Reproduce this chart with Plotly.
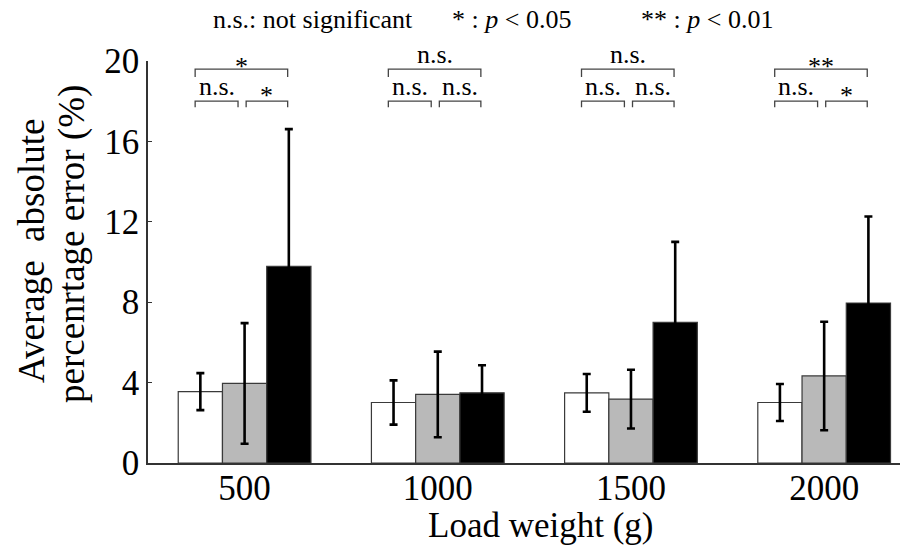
import plotly.graph_objects as go

# ---- data ----
categories = ["500", "1000", "1500", "2000"]
series_names = ["Condition A", "Condition B", "Condition C"]
means_a = [3.55, 3.01, 3.49, 3.01]
means_b = [3.96, 3.41, 3.18, 4.33]
means_c = [9.78, 3.49, 7.00, 7.96]
err_a = [0.92, 1.10, 0.94, 0.92]
err_b = [3.00, 2.13, 1.46, 2.70]
err_c = [6.83, 1.37, 4.00, 4.30]
y_ticks = [0, 4, 8, 12, 16, 20]
# significance labels per group: (upper A-C, lower A-B, lower B-C)
sig_upper = ["*", "n.s.", "n.s.", "**"]
sig_left = ["n.s.", "n.s.", "n.s.", "n.s."]
sig_right = ["*", "n.s.", "n.s.", "*"]
legend_texts = ["n.s.: not significant", "* : <i>p</i> < 0.05", "** : <i>p</i> < 0.01"]
y_title_lines = ["Average\u00a0 absolute", "percenrtage error (%)"]
x_title = "Load weight (g)"

FONT = "Liberation Serif"
fills = ["white", "#b9b9b9", "black"]
means = [means_a, means_b, means_c]
errs = [err_a, err_b, err_c]

# page body has an 8px margin; plot area spans page px x 148..908, y 61..463
OFF = 8
L, T, PW, PH = 148 - OFF, 61 - OFF, 760, 402


def px_x(px):
    return (px - 148) / PW


def px_y(py):
    return (463 - py) / PH


fig = go.Figure()
xs = list(range(len(categories)))
for name, m, e, c in zip(series_names, means, errs, fills):
    fig.add_trace(go.Bar(
        x=xs, y=m, name=name,
        marker=dict(color=c, line=dict(color="#3a3a3a", width=1.2)),
        error_y=dict(type="data", array=e, visible=True, color="black",
                     thickness=2.6, width=4),
    ))

# brackets
UP_Y, UP_LEG = 19.6, 19.2
LO_Y, LO_LEG = 18.0, 17.7
u0, u1, lm, rm = -0.256, 0.223, -0.034, 0.008
shapes = []
annots = []
line = dict(color="#444444", width=1.3)
for i in xs:
    for (a, b, yy, leg) in [(u0, u1, UP_Y, UP_LEG), (u0, lm, LO_Y, LO_LEG), (rm, u1, LO_Y, LO_LEG)]:
        shapes.append(dict(type="path", xref="x", yref="y",
                           path=f"M {i+a},{leg} L {i+a},{yy} L {i+b},{yy} L {i+b},{leg}",
                           line=line))
    for k, (txt, a, b, yy) in enumerate([(sig_upper[i], u0, u1, UP_Y), (sig_left[i], u0, lm, LO_Y),
                                         (sig_right[i], rm, u1, LO_Y)]):
        star = txt.startswith("*")
        ys = (-14 if k == 0 else -11) if star else -2
        annots.append(dict(x=i + (a + b) / 2, y=yy, xref="x", yref="y", text=txt,
                           showarrow=False, xanchor="center", yanchor="bottom",
                           yshift=ys,
                           font=dict(family=FONT, size=26, color="black")))

# top legend text
for txt, px in zip(legend_texts, [313, 511, 707]):
    annots.append(dict(x=px_x(px), y=px_y(20), xref="paper", yref="paper",
                       text=txt, showarrow=False, xanchor="center", yanchor="middle",
                       font=dict(family=FONT, size=26, color="black")))

# y title (two lines)
for txt, cx, cy in zip(y_title_lines, [32, 72], [251, 244]):
    annots.append(dict(x=px_x(cx), y=px_y(cy), xref="paper", yref="paper",
                       text=txt, textangle=-90,
                       showarrow=False, xanchor="center", yanchor="middle",
                       font=dict(family=FONT, size=37, color="black")))

# x title
annots.append(dict(x=px_x(540), y=px_y(525), xref="paper", yref="paper",
                   text=x_title, showarrow=False, xanchor="center", yanchor="middle",
                   font=dict(family=FONT, size=35, color="black")))

fig.update_layout(
    width=908 - OFF, height=546 - OFF,
    margin=dict(l=L, r=0, t=T, b=546 - OFF - T - PH),
    paper_bgcolor="white", plot_bgcolor="white",
    barmode="group", bargap=0.313, bargroupgap=0,
    showlegend=False,
    font=dict(family=FONT, size=35, color="black"),
    shapes=shapes, annotations=annots,
    xaxis=dict(range=[-0.5, 3.434], tickvals=xs, ticktext=categories,
               showline=True, linecolor="#333333", linewidth=1.5, ticks="", ticklen=0,
               ticklabelstandoff=-7,
               showgrid=False, zeroline=False),
    yaxis=dict(range=[0, 20], tickvals=y_ticks, showline=True, linecolor="#333333",
               linewidth=1.5, ticks="inside", ticklen=4, tickcolor="#333333",
               showgrid=False, zeroline=False),
)
fig.write_html("out.html")
